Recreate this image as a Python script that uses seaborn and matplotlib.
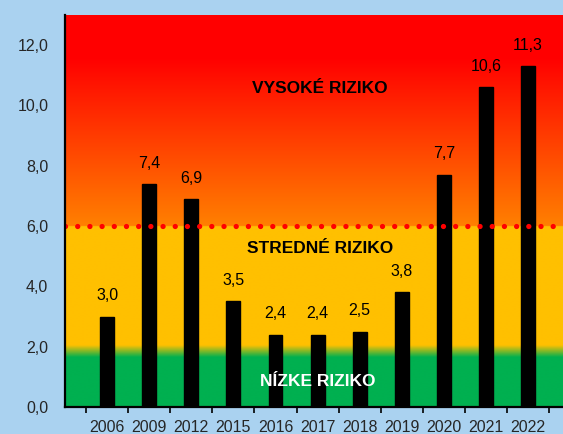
import numpy as np
import pandas as pd
import seaborn as sns
from matplotlib import pyplot as plt
from matplotlib.colors import to_rgb

years = ['2006', '2009', '2012', '2015', '2016', '2017', '2018',
         '2019', '2020', '2021', '2022']
values = [3.0, 7.4, 6.9, 3.5, 2.4, 2.4, 2.5, 3.8, 7.7, 10.6, 11.3]
zone_labels = ['VYSOKÉ RIZIKO', 'STREDNÉ RIZIKO', 'NÍZKE RIZIKO']
yticks = [0, 2, 4, 6, 8, 10, 12]

BG = '#aad2f0'


def zone_gradient(n=1300):
    # background colour by y value: green -> yellow -> (cut at 6) orange -> red
    stops = [(0.0, '#00b050'), (1.65, '#00b050'), (2.05, '#ffc000'),
             (5.999, '#ffc000'), (6.0, '#ff8000'), (11.6, '#ff0000'),
             (13.0, '#ff0000')]
    ys = np.linspace(0, 13, n)
    pos = [s[0] for s in stops]
    cols = np.array([to_rgb(s[1]) for s in stops])
    rgb = np.stack([np.interp(ys, pos, cols[:, k]) for k in range(3)], axis=1)
    return rgb[:, None, :]


def plot():
    sns.set_style('white')
    plt.rcParams['font.family'] = ['Liberation Sans', 'DejaVu Sans']

    fig = plt.figure(figsize=(5.63, 4.34), dpi=100, facecolor=BG)
    ax = fig.add_axes([65 / 563, 27 / 434, 498 / 563, 392 / 434])

    xmin, xmax = -1.0, 10.83
    ax.imshow(zone_gradient(), extent=(xmin, xmax, 0, 13), origin='lower',
              aspect='auto', zorder=0, interpolation='bilinear')

    df = pd.DataFrame({'year': years, 'value': values})
    sns.barplot(data=df, x='year', y='value', color='black', width=0.33,
                saturation=1, edgecolor='black', ax=ax, zorder=2)

    ax.axhline(6.0, color='red', linewidth=3.8, linestyle=(0, (0.01, 2.3)),
               dash_capstyle='round', zorder=3)

    for i, v in enumerate(values):
        ax.annotate(f'{v:.1f}'.replace('.', ','), (i, v), xytext=(0, 15),
                    textcoords='offset points', ha='center', va='center',
                    fontsize=11.5, color='black', zorder=4)

    ax.text(5.05, 10.55, zone_labels[0], ha='center', va='center',
            fontsize=12.5, fontweight='bold', color='black', zorder=4)
    ax.text(5.05, 5.27, zone_labels[1], ha='center', va='center',
            fontsize=12.5, fontweight='bold', color='black', zorder=4)
    ax.text(5.0, 0.83, zone_labels[2], ha='center', va='center',
            fontsize=12.5, fontweight='bold', color='white', zorder=4)

    ax.set_xlim(xmin, xmax)
    ax.set_ylim(0, 13)
    ax.set_yticks(yticks)
    ax.set_yticklabels([f'{t:.1f}'.replace('.', ',') for t in yticks])
    ax.set_xticks(range(len(years)))
    ax.set_xticklabels(years)
    ax.set_xticks(np.arange(-0.5, len(years)), minor=True)
    ax.tick_params(axis='x', which='major', length=0, pad=9, labelsize=11.5)
    ax.tick_params(axis='x', which='minor', length=4, width=1.2,
                   color='black', direction='out', bottom=True)
    ax.tick_params(axis='y', length=0, pad=12, labelsize=11.5)
    ax.set_xlabel('')
    ax.set_ylabel('')

    for side in ['top', 'right']:
        ax.spines[side].set_visible(False)
    for side in ['left', 'bottom']:
        ax.spines[side].set_color('black')
        ax.spines[side].set_linewidth(1.6)
        ax.spines[side].set_zorder(5)

    fig.savefig('out.png', dpi=100, facecolor=BG)


if __name__ == '__main__':
    plot()
